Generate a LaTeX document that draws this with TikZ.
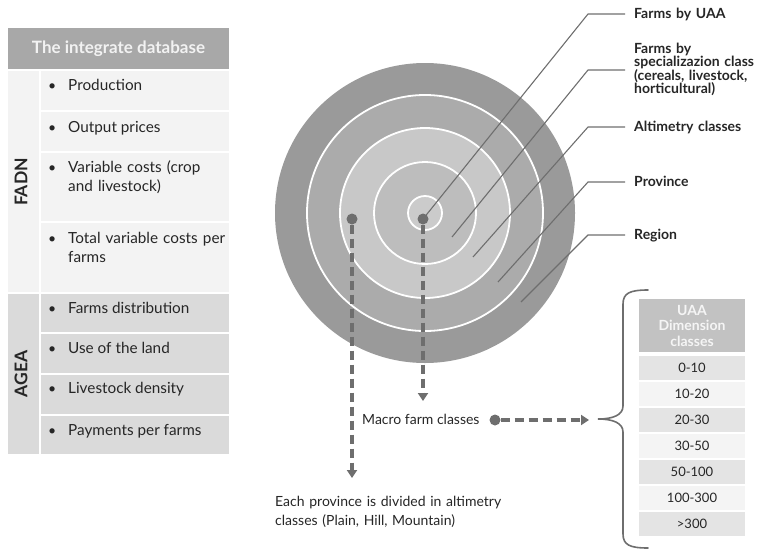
\documentclass[tikz,border=0pt]{standalone}
\usepackage{fontspec}
\setmainfont{Lato}
\usetikzlibrary{arrows.meta}
\definecolor{hdrgray}{HTML}{A8A8A8}
\definecolor{fadnbg}{HTML}{F3F3F3}
\definecolor{ageabg}{HTML}{DADADA}
\definecolor{ringA}{HTML}{9A9A9A}
\definecolor{ringB}{HTML}{ABABAB}
\definecolor{ringC}{HTML}{C8C8C8}
\definecolor{ringD}{HTML}{BDBDBD}
\definecolor{ringE}{HTML}{CBCBCB}
\definecolor{linkgray}{HTML}{6E6E6E}
\definecolor{uaahdr}{HTML}{C2C2C2}
\definecolor{uaadark}{HTML}{E4E4E4}
\definecolor{uaalight}{HTML}{F4F4F4}
\definecolor{txt}{HTML}{262626}
\begin{document}
\begin{tikzpicture}[x=1pt,y=-1pt,
  cell/.style={anchor=north west, inner sep=0pt, outer sep=0pt, draw=white, line width=1.5pt},
  item/.style={anchor=base west, inner sep=0pt, text=txt, font=\fontsize{15.3}{19}\selectfont},
  itemml/.style={anchor=base west, inner sep=0pt, text=txt, align=left, text width=162pt, font=\fontsize{15.3}{19}\selectfont},
  bullet/.style={anchor=base west, inner sep=0pt, text=txt, font=\fontsize{14}{19}\selectfont},
  sidelabel/.style={rotate=90, inner sep=0pt, text=txt, font=\bfseries\fontsize{17.5}{20}\selectfont},
  ringlabel/.style={anchor=base west, inner sep=0pt, text=txt, align=left, text width=130pt, font=\bfseries\fontsize{14}{13.5}\selectfont},
  leader/.style={draw=linkgray, line width=1.1pt},
  dot/.style={circle, fill=linkgray, inner sep=0pt, minimum size=11pt},
  dasharrow/.style={draw=linkgray, line width=3.3pt, dash pattern=on 9pt off 5pt, -{Triangle[width=10pt,length=8pt]}},
  uaacell/.style={cell, minimum width=108pt, minimum height=26pt, text=txt, font=\fontsize{13}{15}\selectfont},
  plain/.style={inner sep=0pt, text=txt, font=\fontsize{14}{19.5}\selectfont}
]
\useasboundingbox (0,0) rectangle (762,552);

% ---------- left table ----------
\node[cell, fill=hdrgray, minimum width=223pt, minimum height=43pt,
      text=white!95!black, font=\bfseries\fontsize{17}{20}\selectfont] (dbhead) at (7,27) {The integrate database};
\node[cell, fill=fadnbg, minimum width=33pt, minimum height=223pt] (fadncol) at (7,70) {};
\node[cell, fill=fadnbg, minimum width=190pt, minimum height=41pt] (f1) at (40,70) {};
\node[cell, fill=fadnbg, minimum width=190pt, minimum height=41pt] (f2) at (40,111) {};
\node[cell, fill=fadnbg, minimum width=190pt, minimum height=70pt] (f3) at (40,152) {};
\node[cell, fill=fadnbg, minimum width=190pt, minimum height=71pt] (f4) at (40,222) {};
\node[cell, fill=ageabg, minimum width=33pt, minimum height=162pt] (ageacol) at (7,293) {};
\node[cell, fill=ageabg, minimum width=190pt, minimum height=40pt] (a1) at (40,293) {};
\node[cell, fill=ageabg, minimum width=190pt, minimum height=41pt] (a2) at (40,333) {};
\node[cell, fill=ageabg, minimum width=190pt, minimum height=41pt] (a3) at (40,374) {};
\node[cell, fill=ageabg, minimum width=190pt, minimum height=40pt] (a4) at (40,415) {};

\node[sidelabel] (fadnlbl) at (21,182) {FADN};
\node[sidelabel] (agealbl) at (21,374) {AGEA};

\foreach \y/\n in {90.5/b1,132.5/b2,172/b3,243/b4,313.5/b5,353.5/b6,393.5/b7,435.5/b8}
  \node[bullet] (\n) at (48,\y) {•};

\node[item] (t1) at (68,90.5) {Production};
\node[item] (t2) at (68,132.5) {Output prices};
\node[itemml] (t3) at (68,172) {Variable costs (crop\\and livestock)};
\node[itemml] (t4) at (68,243) {Total variable costs per\\farms};
\node[item] (t5) at (68,313.5) {Farms distribution};
\node[item] (t6) at (68,353.5) {Use of the land};
\node[item] (t7) at (68,393.5) {Livestock density};
\node[item] (t8) at (68,435.5) {Payments per farms};

% ---------- concentric circles ----------
\coordinate (ctr) at (425,213);
\fill[ringA] (ctr) circle (150pt);
\filldraw[fill=ringB, draw=white, line width=1.8pt] (ctr) circle (118pt);
\filldraw[fill=ringC, draw=white, line width=1.8pt] (ctr) circle (85pt);
\filldraw[fill=ringD, draw=white, line width=1.8pt] (ctr) circle (51pt);
\filldraw[fill=ringE, draw=white, line width=1.8pt] (ctr) circle (17pt);

% ---------- ring labels ----------
\node[ringlabel] (r1) at (634,18) {Farms by UAA};
\node[ringlabel] (r2) at (634,53) {Farms by\\specializazion class\\(cereals, livestock,\\horticultural)};
\node[ringlabel] (r3) at (634,131.5) {Altimetry classes};
\node[ringlabel] (r4) at (634,186.5) {Province};
\node[ringlabel] (r5) at (634,239.5) {Region};

\node[dot] (dprov) at (352,219) {};
\node[dot] (dmacro) at (423,219) {};

\coordinate (s2) at (452,237);
\coordinate (s3) at (473,257);
\coordinate (s4) at (498,282);
\coordinate (s5) at (521,302);
\coordinate (k1) at (588,14);
\coordinate (k2) at (588,70);
\coordinate (k3) at (588,127);
\coordinate (k4) at (588,182);
\coordinate (k5) at (588,235);
\coordinate (e1) at (625,14);
\coordinate (e2) at (625,70);
\coordinate (e3) at (625,127);
\coordinate (e4) at (625,182);
\coordinate (e5) at (625,235);

\draw[leader] (dmacro.center) -- (k1) -- (e1);
\draw[leader] (s2) -- (k2) -- (e2);
\draw[leader] (s3) -- (k3) -- (e3);
\draw[leader] (s4) -- (k4) -- (e4);
\draw[leader] (s5) -- (k5) -- (e5);

% ---------- dashed links ----------
\coordinate (provend) at (352,478);
\coordinate (macroend) at (423,401);
\draw[dasharrow] (dprov.south) -- (provend);
\draw[dasharrow] (dmacro.south) -- (macroend);

\node[plain, anchor=base west] (macro) at (362,424.5) {Macro farm classes};
\node[dot] (dclass) at (495,420) {};
\coordinate (classend) at (589,420);
\draw[dasharrow] (dclass.east) -- (classend);

\node[plain, anchor=base west, align=left, text width=240pt] (provtxt) at (275,506)
  {Each province is divided in altimetry\\classes (Plain, Hill, Mountain)};

% ---------- brace ----------
\coordinate (bracetop) at (648,290);
\coordinate (bracetip) at (598,419);
\coordinate (bracebot) at (648,548);
\draw[linkgray, line width=1.6pt, line cap=round]
  (bracetop) .. controls (630,290) and (623,293) .. (623,304) -- (623,406)
  .. controls (623,415) and (613,419) .. (bracetip)
  .. controls (613,419) and (623,423) .. (623,432) -- (623,534)
  .. controls (623,545) and (630,548) .. (bracebot);

% ---------- UAA table ----------
\node[cell, fill=uaahdr, minimum width=108pt, minimum height=55pt, align=center,
      text=white!96!black, font=\bfseries\fontsize{14}{15.5}\selectfont] (uaahead) at (638,298) {UAA\\Dimension\\classes};
\node[uaacell, fill=uaadark]  (u1) at (638,355) {0-10};
\node[uaacell, fill=uaalight] (u2) at (638,381) {10-20};
\node[uaacell, fill=uaadark]  (u3) at (638,407) {20-30};
\node[uaacell, fill=uaalight] (u4) at (638,433) {30-50};
\node[uaacell, fill=uaadark]  (u5) at (638,459) {50-100};
\node[uaacell, fill=uaalight] (u6) at (638,485) {100-300};
\node[uaacell, fill=uaadark]  (u7) at (638,511) {>300};
\end{tikzpicture}
\end{document}
